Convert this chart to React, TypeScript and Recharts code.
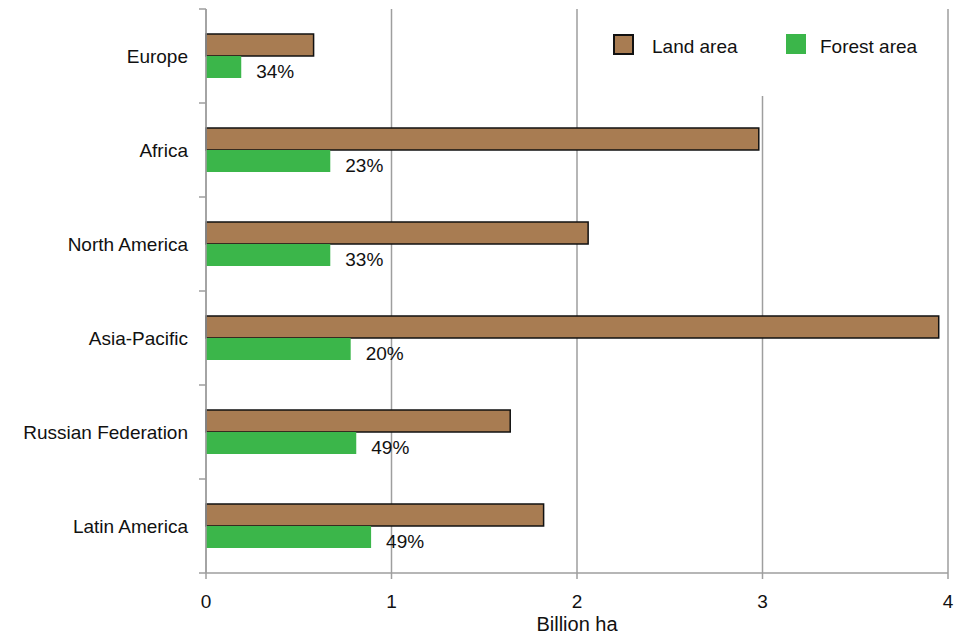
import { BarChart, Bar, XAxis, YAxis, CartesianGrid, Legend, LabelList } from "recharts";

const regions = ["Europe", "Africa", "North America", "Asia-Pacific", "Russian Federation", "Latin America"];
const landArea = [0.58, 2.98, 2.06, 3.95, 1.64, 1.82];
const forestArea = [0.19, 0.67, 0.67, 0.78, 0.81, 0.89];
const forestShare = ["34%", "23%", "33%", "20%", "49%", "49%"];
const xTicks = [0, 1, 2, 3, 4];

const data = regions.map((region, i) => ({
  region,
  land: landArea[i],
  forest: forestArea[i],
  share: forestShare[i],
}));

const FONT = '"Liberation Sans", Arial, sans-serif';
const AXIS = "#9e9e9e";
const LAND = "#a87c52";
const FOREST = "#3bb64a";
const TEXT = "#111";
const FS = 19;

// category labels sit in the middle of the band, the little ticks on the band edges
const RegionTick = (props: any) => {
  const { x, y, payload, index, visibleTicksCount } = props;
  const half = payload && payload.offset > 0 ? payload.offset : 47;
  const last = index === visibleTicksCount - 1;
  return (
    <g>
      <line x1={x - 7} x2={x} y1={y - half} y2={y - half} stroke={AXIS} strokeWidth={1.5} />
      {last && <line x1={x - 7} x2={x} y1={y + half} y2={y + half} stroke={AXIS} strokeWidth={1.5} />}
      <text x={x - 18} y={y} dy={7} textAnchor="end" fontSize={FS} fill={TEXT} fontFamily={FONT}>
        {payload.value}
      </text>
    </g>
  );
};

const ShareLabel = (props: any) => {
  const { x, y, width, height, value } = props;
  return (
    <text x={x + width + 15} y={y + height / 2 + 11} fontSize={FS} fill={TEXT} fontFamily={FONT}>
      {value}
    </text>
  );
};

const LegendBox = () => (
  <div style={{ position: "relative", width: 340, height: 92, fontFamily: FONT, fontSize: FS, color: TEXT }}>
    <div style={{ position: "absolute", left: 13, top: 34, width: 17, height: 17, background: LAND, border: "2px solid #111" }} />
    <span style={{ position: "absolute", left: 52, top: 36, lineHeight: "22px" }}>Land area</span>
    <div style={{ position: "absolute", left: 186, top: 34, width: 20, height: 20, background: FOREST }} />
    <span style={{ position: "absolute", left: 220, top: 36, lineHeight: "22px" }}>Forest area</span>
  </div>
);

export default function App() {
  return (
    <div style={{ position: "fixed", left: 0, top: 0, width: 954, height: 637, overflow: "hidden", background: "#fff", fontFamily: FONT }}>
      <BarChart
        width={954}
        height={637}
        data={data}
        layout="vertical"
        margin={{ top: 9, right: 6, bottom: 4, left: 0 }}
        barSize={22}
        barGap={0}
      >
        <CartesianGrid horizontal={false} stroke={AXIS} strokeWidth={1.5} />
        <XAxis
          type="number"
          domain={[0, 4]}
          ticks={xTicks}
          height={60}
          stroke={AXIS}
          strokeWidth={1.5}
          tickSize={6}
          tickMargin={16}
          tick={{ fill: TEXT, fontSize: FS, fontFamily: FONT }}
          label={{ value: "Billion ha", position: "insideBottom", offset: 2, fill: TEXT, fontSize: 20, fontFamily: FONT }}
        />
        <YAxis
          type="category"
          dataKey="region"
          width={206}
          stroke={AXIS}
          strokeWidth={1.5}
          tickLine={false}
          tickSize={0}
          tickMargin={0}
          tick={<RegionTick />}
          interval={0}
        />
        <Legend
          layout="horizontal"
          verticalAlign="middle"
          align="center"
          content={<LegendBox />}
          wrapperStyle={{ position: "absolute", top: 0, left: 600, width: 340, height: 96, background: "#fff" }}
        />
        <Bar dataKey="land" name="Land area" fill={LAND} stroke="#111" strokeWidth={1.5} isAnimationActive={false} />
        <Bar dataKey="forest" name="Forest area" fill={FOREST} isAnimationActive={false}>
          <LabelList dataKey="share" content={<ShareLabel />} />
        </Bar>
      </BarChart>
    </div>
  );
}
